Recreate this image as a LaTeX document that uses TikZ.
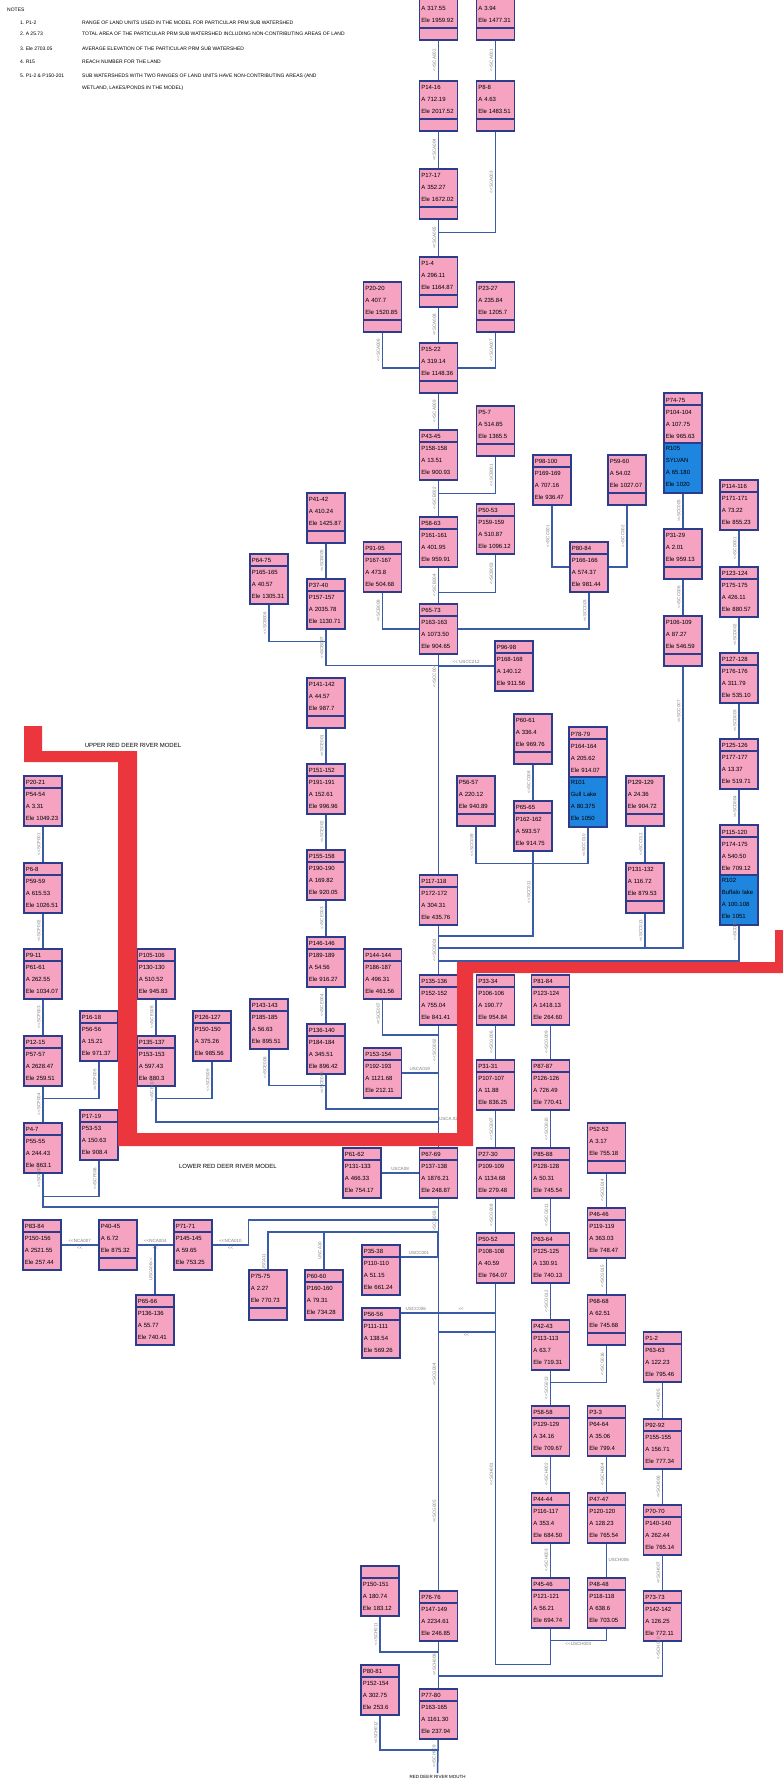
\documentclass[tikz,border=0pt]{standalone}
\usepackage{fontspec}
\setmainfont{Liberation Sans}

\definecolor{unitpink}{RGB}{245,163,192}
\definecolor{edgenavy}{RGB}{44,60,140}
\definecolor{linkblue}{RGB}{58,91,166}
\definecolor{lakeblue}{RGB}{30,134,223}
\definecolor{bandred}{RGB}{236,54,62}
\definecolor{tagray}{RGB}{125,125,125}
\newcommand{\upstr}{<\kern0pt<}

\begin{document}
\begin{tikzpicture}[
    x=1pt, y=-1pt,
    font=\fontsize{6}{12}\selectfont,
    subws/.style={draw=edgenavy, line width=1.5pt, fill=unitpink, anchor=north west,
      minimum width=38pt, minimum height=50pt, text width=34pt,
      inner xsep=2pt, inner ysep=0pt, align=left},
    hdrws/.style={subws, path picture={\draw[edgenavy, line width=1.5pt]
      ([yshift=-12pt]path picture bounding box.north west) --
      ([yshift=-12pt]path picture bounding box.north east);}},
    stripws/.style={subws, path picture={\draw[edgenavy, line width=1.5pt]
      ([yshift=12pt]path picture bounding box.south west) --
      ([yshift=12pt]path picture bounding box.south east);}},
    lakews/.style={subws, minimum height=100pt, path picture={
      \fill[lakeblue] (path picture bounding box.west) rectangle (path picture bounding box.south east);
      \draw[edgenavy, line width=1.5pt]
      ([yshift=-12pt]path picture bounding box.north west) --
      ([yshift=-12pt]path picture bounding box.north east)
      (path picture bounding box.west) -- (path picture bounding box.east);}},
    riverlink/.style={draw=linkblue, line width=1.5pt},
    flowtag/.style={rotate=90, anchor=south, inner sep=1.5pt, text=tagray, font=\fontsize{4.5}{5}\selectfont},
    linktag/.style={inner sep=1.5pt, text=tagray, font=\fontsize{4.5}{5}\selectfont},
    notetxt/.style={anchor=west, inner sep=0pt, font=\fontsize{5}{6}\selectfont},
    bandtag/.style={inner sep=0pt, font=\fontsize{6}{7}\selectfont},
  ]
  \useasboundingbox (0,0) rectangle (783,1786);

  \node[notetxt] (notehead) at (7,10) {NOTES};
  \node[notetxt] (key1) at (20,23) {1.\ P1-2};
  \node[notetxt] (key2) at (20,34) {2.\ A 25.73};
  \node[notetxt] (key3) at (20,49) {3.\ Ele 2703.05};
  \node[notetxt] (key4) at (20,62) {4.\ R15};
  \node[notetxt] (key5) at (20,76) {5.\ P1-2 \& P150-201};
  \node[notetxt] (note1) at (82,23) {RANGE OF LAND UNITS USED IN THE MODEL FOR PARTICULAR PRM SUB WATERSHED};
  \node[notetxt] (note2) at (82,34) {TOTAL AREA OF THE PARTICULAR PRM SUB WATERSHED INCLUDING NON-CONTRIBUTING AREAS OF LAND};
  \node[notetxt] (note3) at (82,49) {AVERAGE ELEVATION OF THE PARTICULAR PRM SUB WATERSHED};
  \node[notetxt] (note4) at (82,62) {REACH NUMBER FOR THE LAND};
  \node[notetxt] (note5) at (82,76) {SUB WATERSHEDS WITH TWO RANGES OF LAND UNITS HAVE NON-CONTRIBUTING AREAS (AND};
  \node[notetxt] (note6) at (82,88) {WETLAND, LAKES/PONDS IN THE MODEL)};

  \node[stripws] (p1013) at (418.5,-11) {\phantom{P}\\A 317.55\\Ele 1959.92\\\phantom{0}};
  \node[stripws] (p1111) at (475.5,-11) {\phantom{P}\\A 3.94\\Ele 1477.31\\\phantom{0}};
  \node[stripws] (p1416) at (418.5,80) {P14-16\\A 712.19\\Ele 2017.52\\\phantom{0}};
  \node[stripws] (p0808) at (475.5,80) {P8-8\\A 4.63\\Ele 1483.51\\\phantom{0}};
  \node[stripws] (p1717) at (418.5,168) {P17-17\\A 352.27\\Ele 1672.02\\\phantom{0}};
  \node[stripws] (p0104) at (418.5,256) {P1-4\\A 296.11\\Ele 1164.87\\\phantom{0}};
  \node[stripws] (p2020) at (362.5,281) {P20-20\\A 407.7\\Ele 1520.85\\\phantom{0}};
  \node[stripws] (p2327) at (475.5,281) {P23-27\\A 235.84\\Ele 1205.7\\\phantom{0}};
  \node[stripws] (p1522) at (418.5,342) {P15-22\\A 319.14\\Ele 1148.36\\\phantom{0}};
  \node[stripws] (p0507) at (475.5,405) {P5-7\\A 514.85\\Ele 1365.5\\\phantom{0}};
  \node[hdrws] (p4345) at (418.5,429) {P43-45\\P158-158\\A 13.51\\Ele 900.93};
  \node[hdrws] (p5053) at (475.5,503) {P50-53\\P159-159\\A 510.87\\Ele 1096.12};
  \node[hdrws] (p5863) at (418.5,516) {P58-63\\P161-161\\A 401.95\\Ele 959.91};
  \node[stripws] (p4142) at (306,492) {P41-42\\A 410.24\\Ele 1425.87\\\phantom{0}};
  \node[hdrws] (p9195) at (362.5,541) {P91-95\\P167-167\\A 473.8\\Ele 504.68};
  \node[hdrws] (p6475) at (249,553) {P64-75\\P165-165\\A 40.57\\Ele 1305.31};
  \node[hdrws] (p3740) at (306,578) {P37-40\\P157-157\\A 2035.78\\Ele 1130.71};
  \node[hdrws] (p98100) at (532,454) {P98-100\\P169-169\\A 707.16\\Ele 936.47};
  \node[stripws] (p5960) at (607,454) {P59-60\\A 54.02\\Ele 1027.07\\\phantom{0}};
  \node[hdrws] (p8084) at (569,541) {P80-84\\P166-166\\A 574.37\\Ele 981.44};
  \node[lakews] (p7475) at (663,392) {P74-75\\P104-104\\A 107.75\\Ele 965.63\\R105\\SYLVAN\\A 65.180\\Ele 1020};
  \node[stripws] (p3129) at (663,528) {P31-29\\A 2.01\\Ele 959.13\\\phantom{0}};
  \node[hdrws] (p114116) at (719,479) {P114-116\\P171-171\\A 73.22\\Ele 855.23};
  \node[hdrws] (p123124) at (719,566) {P123-124\\P175-175\\A 426.11\\Ele 880.57};
  \node[hdrws] (p6573) at (418.5,603) {P65-73\\P163-163\\A 1073.50\\Ele 904.65};
  \node[stripws] (p106109) at (663,615) {P106-109\\A 87.27\\Ele 546.59\\\phantom{0}};
  \node[hdrws] (p9698) at (494,640) {P96-98\\P168-168\\A 140.12\\Ele 911.56};
  \node[hdrws] (p127128) at (719,652) {P127-128\\P176-176\\A 311.79\\Ele 535.10};
  \node[stripws] (p141142) at (306,677) {P141-142\\A 44.57\\Ele 987.7\\\phantom{0}};
  \node[stripws] (p6061) at (513,713) {P60-61\\A 336.4\\Ele 969.76\\\phantom{0}};
  \node[lakews] (p7879) at (568,726) {P78-79\\P164-164\\A 205.62\\Ele 914.07\\R101\\Gull Lake\\A 80.375\\Ele 1050};
  \node[hdrws] (p125126) at (719,738) {P125-126\\P177-177\\A 13.37\\Ele 519.71};
  \node[hdrws] (p151152) at (306,763) {P151-152\\P191-191\\A 152.61\\Ele 996.96};
  \node[stripws] (p5657) at (456,775) {P56-57\\A 220.12\\Ele 940.89\\\phantom{0}};
  \node[stripws] (p129129) at (625,775) {P129-129\\A 24.36\\Ele 904.72\\\phantom{0}};
  \node[hdrws] (p2021) at (23,775) {P20-21\\P54-54\\A 3.31\\Ele 1049.23};
  \node[hdrws] (p6565) at (513,800) {P65-65\\P162-162\\A 593.57\\Ele 914.75};
  \node[lakews] (p115120) at (719,824) {P115-120\\P174-175\\A 540.50\\Ele 709.12\\R102\\Buffalo lake\\A 100.108\\Ele 1051};
  \node[hdrws] (p155158) at (306,849) {P155-158\\P190-190\\A 169.82\\Ele 920.05};
  \node[hdrws] (p0608) at (23,862) {P6-8\\P59-59\\A 615.53\\Ele 1026.51};
  \node[stripws] (p131132) at (625,862) {P131-132\\A 116.72\\Ele 879.53\\\phantom{0}};
  \node[hdrws] (p117118) at (418.5,874) {P117-118\\P172-172\\A 304.31\\Ele 435.76};
  \node[hdrws] (p146146) at (306,936) {P146-146\\P189-189\\A 54.56\\Ele 916.27};
  \node[hdrws] (p0911) at (23,948) {P9-11\\P61-61\\A 262.55\\Ele 1034.07};
  \node[hdrws] (p105106) at (136,948) {P105-106\\P130-130\\A 510.52\\Ele 945.83};
  \node[hdrws] (p144144) at (362.5,948) {P144-144\\P186-187\\A 496.31\\Ele 461.56};
  \node[hdrws] (p135136) at (418.5,974) {P135-136\\P152-152\\A 755.04\\Ele 841.41};
  \node[hdrws] (p3334) at (475.5,974) {P33-34\\P106-106\\A 190.77\\Ele 954.84};
  \node[hdrws] (p8184) at (530.5,974) {P81-84\\P123-124\\A 1418.13\\Ele 264.60};
  \node[hdrws] (p143143) at (249,998) {P143-143\\P185-185\\A 56.63\\Ele 895.51};
  \node[hdrws] (p126127) at (192,1010) {P126-127\\P150-150\\A 375.26\\Ele 985.56};
  \node[hdrws] (p1618) at (79,1010) {P16-18\\P56-56\\A 15.21\\Ele 971.37};
  \node[hdrws] (p136140) at (306,1023) {P136-140\\P184-184\\A 345.51\\Ele 896.42};
  \node[hdrws] (p1215) at (23,1035) {P12-15\\P57-57\\A 2628.47\\Ele 259.51};
  \node[hdrws] (p135137) at (136,1035) {P135-137\\P153-153\\A 597.43\\Ele 880.3};
  \node[hdrws] (p153154) at (362.5,1047) {P153-154\\P192-193\\A 1121.68\\Ele 212.11};
  \node[hdrws] (p3131) at (475.5,1059) {P31-31\\P107-107\\A 11.88\\Ele 836.25};
  \node[hdrws] (p8787) at (530.5,1059) {P87-87\\P126-126\\A 726.49\\Ele 770.41};
  \node[hdrws] (p1719) at (79,1109) {P17-19\\P53-53\\A 150.63\\Ele 908.4};
  \node[hdrws] (p0407) at (23,1122) {P4-7\\P55-55\\A 244.43\\Ele 863.1};
  \node[stripws] (p5252) at (586.5,1122) {P52-52\\A 3.17\\Ele 755.18\\\phantom{0}};
  \node[hdrws] (p6162) at (342,1147) {P61-62\\P131-133\\A 466.33\\Ele 754.17};
  \node[hdrws] (p6769) at (418.5,1147) {P67-69\\P137-138\\A 1876.21\\Ele 248.87};
  \node[hdrws] (p2730) at (475.5,1147) {P27-30\\P109-109\\A 1134.68\\Ele 279.48};
  \node[hdrws] (p8588) at (530.5,1147) {P85-88\\P128-128\\A 50.31\\Ele 745.54};
  \node[hdrws] (p4646) at (586.5,1207) {P46-46\\P119-119\\A 363.03\\Ele 748.47};
  \node[hdrws] (p8384) at (22,1219) {P83-84\\P150-156\\A 2521.55\\Ele 257.44};
  \node[stripws] (p4045) at (98,1219) {P40-45\\A 6.72\\Ele 875.32\\\phantom{0}};
  \node[hdrws] (p7171) at (173,1219) {P71-71\\P145-145\\A 59.65\\Ele 753.25};
  \node[hdrws] (p5052) at (475.5,1232) {P50-52\\P108-108\\A 40.59\\Ele 764.07};
  \node[hdrws] (p6364) at (530.5,1232) {P63-64\\P125-125\\A 130.91\\Ele 740.13};
  \node[hdrws] (p3538) at (361,1244) {P35-38\\P110-110\\A 51.15\\Ele 661.24};
  \node[stripws] (p7575) at (248,1269) {P75-75\\A 2.27\\Ele 770.73\\\phantom{0}};
  \node[hdrws] (p6060) at (304,1269) {P60-60\\P160-160\\A 79.31\\Ele 734.28};
  \node[hdrws] (p6566) at (135,1294) {P65-66\\P136-136\\A 55.77\\Ele 740.41};
  \node[stripws] (p6868) at (586.5,1294) {P68-68\\A 62.51\\Ele 745.68\\\phantom{0}};
  \node[hdrws] (p5656) at (361,1307) {P56-56\\P111-111\\A 138.54\\Ele 569.26};
  \node[hdrws] (p4243) at (530.5,1319) {P42-43\\P113-113\\A 63.7\\Ele 719.31};
  \node[hdrws] (p0102) at (642.5,1331) {P1-2\\P63-63\\A 122.23\\Ele 795.46};
  \node[hdrws] (p5858) at (530.5,1405) {P58-58\\P129-129\\A 34.16\\Ele 709.67};
  \node[hdrws] (p0303) at (586.5,1405) {P3-3\\P64-64\\A 35.06\\Ele 799.4};
  \node[hdrws] (p9292) at (642.5,1418) {P92-92\\P155-155\\A 156.71\\Ele 777.34};
  \node[hdrws] (p4444) at (530.5,1492) {P44-44\\P116-117\\A 353.4\\Ele 684.50};
  \node[hdrws] (p4747) at (586.5,1492) {P47-47\\P120-120\\A 128.23\\Ele 765.54};
  \node[hdrws] (p7070) at (642.5,1504) {P70-70\\P140-140\\A 262.44\\Ele 765.14};
  \node[hdrws] (p150151) at (360,1565) {\phantom{P}\\P150-151\\A 180.74\\Ele 183.12};
  \node[hdrws] (p4546) at (530.5,1577) {P45-46\\P121-121\\A 56.21\\Ele 694.74};
  \node[hdrws] (p4848) at (586.5,1577) {P48-48\\P118-118\\A 638.6\\Ele 703.05};
  \node[hdrws] (p7676) at (418.5,1590) {P76-76\\P147-149\\A 2234.61\\Ele 246.85};
  \node[hdrws] (p7373) at (642.5,1590) {P73-73\\P142-142\\A 126.25\\Ele 772.11};
  \node[hdrws] (p8081) at (360,1664) {P80-81\\P152-154\\A 302.75\\Ele 253.6};
  \node[hdrws] (p7780) at (418.5,1688) {P77-80\\P163-165\\A 1161.30\\Ele 237.94};

  \coordinate (m936) at (437.5,936);
  \coordinate (m948) at (437.5,948);
  \coordinate (m961) at (437.5,961);
  \coordinate (m1035) at (437.5,1035);
  \coordinate (m1109) at (437.5,1109);
  \coordinate (m1122) at (437.5,1122);
  \coordinate (m1207) at (437.5,1207);
  \coordinate (m1220) at (437.5,1220);
  \coordinate (m1232) at (437.5,1232);
  \coordinate (m1332) at (437.5,1332);
  \coordinate (m1652) at (437.5,1652);
  \coordinate (m1676) at (437.5,1676);
  \coordinate (m1750) at (437.5,1750);
  \coordinate (mouth) at (437.5,1773);

  \draw[riverlink] (p1013) -- node[flowtag]{\upstr SCA002} (p1416);
  \draw[riverlink] (p1111) -- node[flowtag]{\upstr SCA001} (p0808);
  \draw[riverlink] (p1416) -- node[flowtag]{\upstr SCA004} (p1717);
  \draw[riverlink] (p0808.south) -- node[flowtag]{\upstr SCA003} ++(0,101) -| (p1717.south);
  \draw[riverlink] (p1717) -- node[flowtag]{\upstr SCA005} (p0104);
  \draw[riverlink] (p2020.south) |- node[flowtag, pos=.25]{\upstr SCA006} (p1522.west);
  \draw[riverlink] (p2327.south) |- node[flowtag, pos=.25]{\upstr SCA007} (p1522.east);
  \draw[riverlink] (p0104) -- node[flowtag]{\upstr SCA008} (p1522);
  \draw[riverlink] (p1522) -- node[flowtag]{\upstr SCA009} (p4345);
  \draw[riverlink] (p0507.south) -- node[flowtag]{\upstr SCB001} ++(0,37) -| (p4345.south);
  \draw[riverlink] (p4345) -- node[flowtag]{\upstr SCB002} (p5863);
  \draw[riverlink] (p5053.south) -- node[flowtag]{\upstr SCB003} ++(0,38) -| (p5863.south);
  \draw[riverlink] (p5863) -- node[flowtag]{\upstr SCB004} (p6573);
  \draw[riverlink] (p4142) -- node[flowtag]{\upstr SCB005} (p3740);
  \draw[riverlink] (p6475.south) -- node[flowtag]{\upstr SCB006} ++(0,37) -| (p3740.south);
  \draw[riverlink] (p3740.south) -- node[flowtag]{\upstr SCB007} ++(0,36) -| (p6573.south);
  \draw[riverlink] (p9195.south) |- node[flowtag, pos=.25]{\upstr SCB008} (p6573.west);
  \draw[riverlink] (p98100.south) |- node[flowtag, pos=.25]{\upstr SCC001} (p8084.west);
  \draw[riverlink] (p5960.south) |- node[flowtag, pos=.25]{\upstr SCC002} (p8084.east);
  \draw[riverlink] (p8084.south) |- node[flowtag, pos=.25]{\upstr SCC003} (p6573.east);
  \draw[riverlink] (p9698.west) -- node[linktag, above]{\upstr\ USCC212} (p9698.west -| p6573.south);
  \draw[riverlink] (p6573) -- node[flowtag, pos=.1]{\upstr SCC004} (p117118);
  \draw[riverlink] (p7475) -- node[flowtag]{\upstr SCC005} (p3129);
  \draw[riverlink] (p3129) -- node[flowtag]{\upstr SCC006} (p106109);
  \draw[riverlink] (p106109.south) |- node[flowtag, pos=.08]{\upstr SCC007} (m948);
  \draw[riverlink] (p114116) -- node[flowtag]{\upstr SCD001} (p123124);
  \draw[riverlink] (p123124) -- node[flowtag]{\upstr SCD002} (p127128);
  \draw[riverlink] (p127128) -- node[flowtag]{\upstr SCD003} (p125126);
  \draw[riverlink] (p125126) -- node[flowtag]{\upstr SCD004} (p115120);
  \draw[riverlink] (p115120.south) |- node[flowtag, pos=.055]{\upstr SCD005} (m961);
  \draw[riverlink] (p6061) -- node[flowtag]{\upstr SCC008} (p6565);
  \draw[riverlink] (p5657.south) -- node[flowtag]{\upstr SCC009} ++(0,37) -| (p6565.south);
  \draw[riverlink] (p7879.south) -- node[flowtag]{\upstr SCC010} ++(0,36) -| (p6565.south);
  \draw[riverlink] (p6565.south) |- node[flowtag, pos=.24]{\upstr SCC011} (m936);
  \draw[riverlink] (p129129) -- node[flowtag]{\upstr SCC012} (p131132);
  \draw[riverlink] (p131132.south) -- node[flowtag]{\upstr SCC013} (p131132.south |- m948);

  \draw[riverlink] (p141142) -- node[flowtag]{\upstr SCE001} (p151152);
  \draw[riverlink] (p151152) -- node[flowtag]{\upstr SCE002} (p155158);
  \draw[riverlink] (p155158) -- node[flowtag]{\upstr SCE003} (p146146);
  \draw[riverlink] (p146146) -- node[flowtag]{\upstr SCE004} (p136140);
  \draw[riverlink] (p136140.south) |- node[flowtag, pos=.12]{\upstr SCE005} (m1109);
  \draw[riverlink] (p143143.south) -- node[flowtag]{\upstr SCE006} ++(0,36) -| (p136140.south);
  \draw[riverlink] (p144144.south) |- node[flowtag, pos=.2]{\upstr SCE007} (m1035);
  \draw[riverlink] (p153154.east) -- node[linktag, above]{USCA019} (p153154.east -| m1035);
  \draw[riverlink] (p105106) -- node[flowtag]{\upstr SCE008} (p135137);
  \draw[riverlink] (p126127.south) -- node[flowtag]{\upstr SCE009} ++(0,37) -| (p135137.south);
  \draw[riverlink] (p135137.south) |- node[flowtag, pos=.055]{\upstr SCE010} (m1122);
  \node[linktag, anchor=south west] (t1122) at (m1122) {USCA 021};

  \draw[riverlink] (p2021) -- node[flowtag]{\upstr SCF001} (p0608);
  \draw[riverlink] (p0608) -- node[flowtag]{\upstr SCF002} (p0911);
  \draw[riverlink] (p0911) -- node[flowtag]{\upstr SCF003} (p1215);
  \draw[riverlink] (p1215) -- node[flowtag]{\upstr SCF004} (p0407);
  \draw[riverlink] (p1618.south) -- node[flowtag]{\upstr SCF005} ++(0,37) -| (p1215.south);
  \draw[riverlink] (p1719.south) -- node[flowtag]{\upstr SCF006} ++(0,36) -| (p0407.south);
  \draw[riverlink] (p0407.south) |- node[flowtag, pos=.04]{\upstr SCF007} (m1207);

  \draw[riverlink] (p117118) -- node[flowtag]{\upstr SCG001} (p135136);
  \draw[riverlink] (p135136) -- node[flowtag, pos=.2]{\upstr SCG002} (p6769);
  \draw[riverlink] (p6162) -- node[linktag, above]{USCA08} (p6769);
  \draw[riverlink] (p6769) -- node[flowtag, pos=.06]{\upstr SCG003} node[flowtag, pos=.45]{\upstr SCG004} node[flowtag, pos=.8]{\upstr SCG005} (p7676);
  \draw[riverlink] (p7676) -- node[flowtag]{\upstr SCH008} (p7780);
  \draw[riverlink] (p7780.south) -- node[flowtag]{\upstr SCH009} (mouth);
  \node[bandtag, below=2pt] (mouthlbl) at (mouth) {\fontsize{4.5}{5}\selectfont RED DEER RIVER MOUTH};

  \draw[riverlink] (p3334) -- node[flowtag]{\upstr SCG006} (p3131);
  \draw[riverlink] (p3131) -- node[flowtag]{\upstr SCG007} (p2730);
  \draw[riverlink] (p2730) -- node[flowtag]{\upstr SCG008} (p5052);
  \draw[riverlink] (p5052.south) -- node[flowtag, pos=.5]{\upstr SCH001} ++(0,381) -| (p4546.south);
  \draw[riverlink] (p8184) -- node[flowtag]{\upstr SCG009} (p8787);
  \draw[riverlink] (p8787) -- node[flowtag]{\upstr SCG010} (p8588);
  \draw[riverlink] (p8588) -- node[flowtag]{\upstr SCG011} (p6364);
  \draw[riverlink] (p6364) -- node[flowtag]{\upstr SCG012} (p4243);
  \draw[riverlink] (p4243) -- node[flowtag]{\upstr SCG013} (p5858);
  \draw[riverlink] (p5858) -- node[flowtag]{\upstr SCH002} (p4444);
  \draw[riverlink] (p4444) -- node[flowtag]{\upstr SCH003} (p4546);
  \draw[riverlink] (p5252) -- node[flowtag]{\upstr SCG014} (p4646);
  \draw[riverlink] (p4646) -- node[flowtag]{\upstr SCG015} (p6868);
  \draw[riverlink] (p6868.south) -- node[flowtag]{\upstr SCG016} ++(0,37) -| (p4243.south);
  \draw[riverlink] (p0303) -- node[flowtag]{\upstr SCH004} (p4747);
  \draw[riverlink] (p4747) -- node[linktag, right]{USCH006} (p4848);
  \draw[riverlink] (p4848.south) -- ++(0,12) -| node[linktag, below, pos=.25]{\upstr USCH003} (p4546.south);
  \draw[riverlink] (p0102) -- node[flowtag]{\upstr SCH005} (p9292);
  \draw[riverlink] (p9292) -- node[flowtag]{\upstr SCH006} (p7070);
  \draw[riverlink] (p7070) -- node[flowtag]{\upstr SCH007} (p7373);
  \draw[riverlink] (p7373.south) |- node[flowtag, pos=.1]{\upstr SCH010} (m1676);

  \draw[riverlink] (p8384) -- node[linktag, above]{\upstr NCA007} node[linktag, below]{\upstr} (p4045);
  \draw[riverlink] (p4045) -- node[linktag, above]{\upstr NCA004} node[linktag, below]{\upstr} (p7171);
  \draw[riverlink] (p7171.east) -- node[linktag, above]{\upstr NCA010} node[linktag, below]{\upstr} ++(36,0) |- (m1220);
  \draw[riverlink] (p6566.north) -- node[flowtag]{USCA06\upstr} (p6566.north |- p7171.west);
  \draw[riverlink] (p7575.north) |- node[flowtag, pos=.09]{USCA11} (m1232);
  \draw[riverlink] (p6060.north) -- node[flowtag]{USCA10} (p6060.north |- m1232);
  \draw[riverlink] ([yshift=-13pt]p3538.north east) -| node[linktag, above, pos=.25]{USCC001} (m1232);
  \draw[riverlink] ([yshift=-6pt]p5656.north east) -| node[linktag, above, pos=.08]{USCC006} node[linktag, above, pos=.32]{\upstr} (p5052.south);
  \draw[riverlink] (m1332) -- node[linktag, below]{\upstr} (m1332 -| p5052.south);
  \draw[riverlink] (p150151.south) |- node[flowtag, pos=.25]{\upstr SCH011} (m1652);
  \draw[riverlink] (p8081.south) |- node[flowtag, pos=.25]{\upstr SCH012} (m1750);

  \fill[bandred] (24,726) rectangle (42,762) (24,751) rectangle (137,762)
    (118,751) rectangle (137,1146) (118,1133) rectangle (473,1146)
    (457,962) rectangle (473,1146) (457,962) rectangle (790,973)
    (775,930) rectangle (790,973);
  \node[bandtag] (upperlbl) at (133,745) {UPPER RED DEER RIVER MODEL};
  \node[bandtag] (lowerlbl) at (228,1166) {LOWER RED DEER RIVER MODEL};
\end{tikzpicture}
\end{document}
